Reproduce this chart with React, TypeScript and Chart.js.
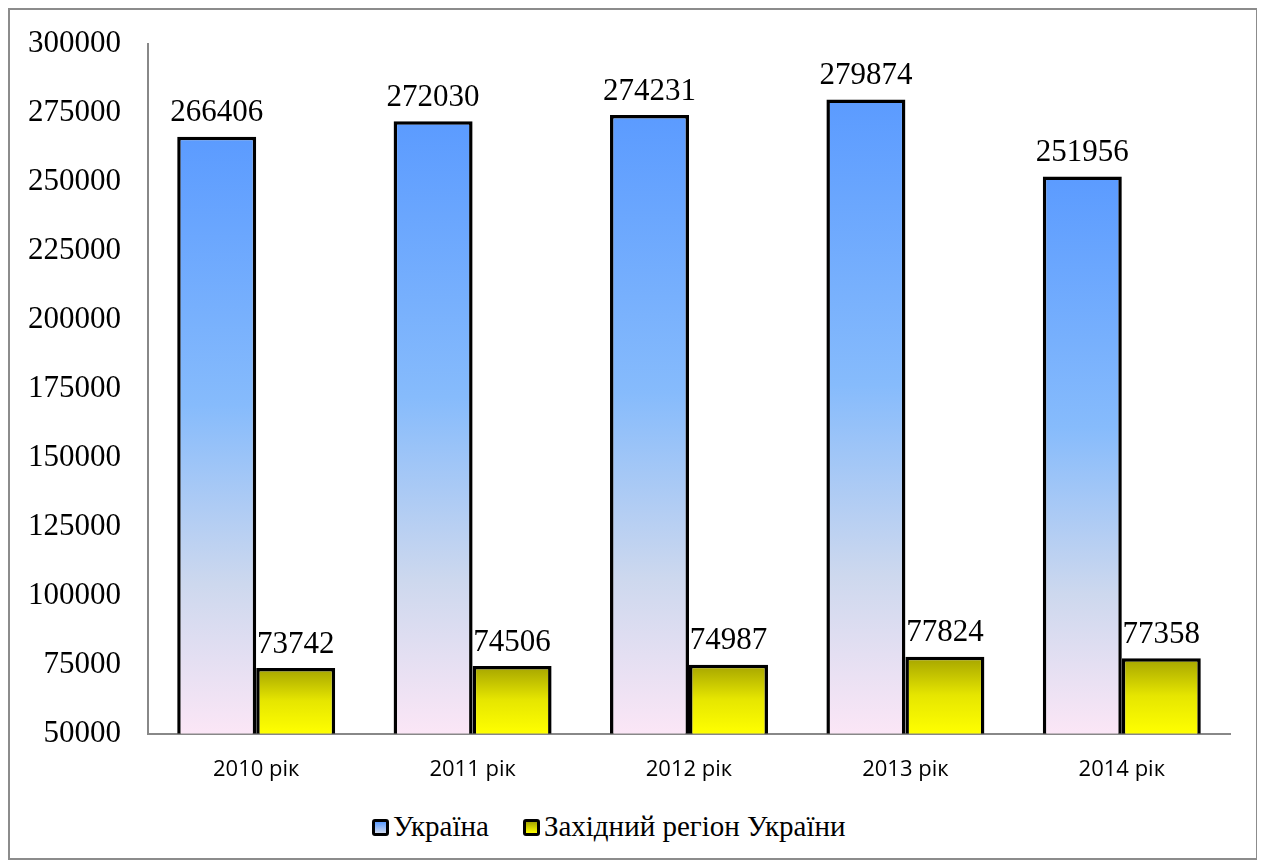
import React, { useEffect, useRef } from "react";
import { Chart, registerables } from "chart.js";

Chart.register(...registerables);

const categories = ["2010 рік", "2011 рік", "2012 рік", "2013 рік", "2014 рік"];
const ukraineValues = [266406, 272030, 274231, 279874, 251956];
const westValues = [73742, 74506, 74987, 77824, 77358];
const seriesNames = ["Україна", "Західний регіон України"];
const yMin = 50000;
const yMax = 300000;
const yStep = 25000;

const SERIF = '"Liberation Serif", "Times New Roman", serif';

function blueGradient(ctx: any) {
  const chart = ctx.chart;
  const area = chart.chartArea;
  if (!area || ctx.type !== "data") return "#8dbdfa";
  const top = chart.scales.y.getPixelForValue(ctx.raw);
  const g = chart.ctx.createLinearGradient(0, top, 0, area.bottom);
  g.addColorStop(0, "#5b9bff");
  g.addColorStop(0.45, "#86bbfc");
  g.addColorStop(0.75, "#cdd8ee");
  g.addColorStop(1, "#fbe6f6");
  return g;
}

function yellowGradient(ctx: any) {
  const chart = ctx.chart;
  const area = chart.chartArea;
  if (!area || ctx.type !== "data") return "#e6e600";
  const top = chart.scales.y.getPixelForValue(ctx.raw);
  const g = chart.ctx.createLinearGradient(0, top, 0, area.bottom);
  g.addColorStop(0, "#a5a400");
  g.addColorStop(0.5, "#e6e600");
  g.addColorStop(1, "#ffff00");
  return g;
}

const valueLabels = {
  id: "valueLabels",
  afterDatasetsDraw(chart: any) {
    const ctx = chart.ctx;
    ctx.save();
    ctx.font = `31px ${SERIF}`;
    ctx.fillStyle = "#000";
    ctx.textAlign = "center";
    ctx.textBaseline = "bottom";
    chart.data.datasets.forEach((ds: any, i: number) => {
      const meta = chart.getDatasetMeta(i);
      meta.data.forEach((bar: any, j: number) => {
        ctx.fillText(String(ds.data[j]), bar.x, bar.y - 8);
      });
    });
    ctx.restore();
  },
};

const legendBox = (bg: string): React.CSSProperties => ({
  display: "inline-block",
  width: 11,
  height: 11,
  border: "3.5px solid #000",
  borderRadius: 3,
  background: bg,
  marginRight: 4,
  verticalAlign: "middle",
  position: "relative",
  top: -2,
});

export default function App() {
  const ref = useRef<HTMLCanvasElement>(null);
  useEffect(() => {
    if (!ref.current) return;
    const chart = new Chart(ref.current, {
      type: "bar",
      data: {
        labels: categories,
        datasets: [
          {
            label: seriesNames[0],
            data: ukraineValues,
            backgroundColor: blueGradient as any,
            borderColor: "#000",
            borderWidth: 3.5,
            borderSkipped: false,
          },
          {
            label: seriesNames[1],
            data: westValues,
            backgroundColor: yellowGradient as any,
            borderColor: "#000",
            borderWidth: 3.5,
            borderSkipped: false,
          },
        ],
      },
      options: {
        animation: false,
        responsive: true,
        maintainAspectRatio: false,
        layout: { padding: { top: 34, right: 26, left: 0, bottom: 0 } },
        datasets: { bar: { categoryPercentage: 0.73, barPercentage: 1 } },
        scales: {
          x: {
            grid: { display: false, drawTicks: false },
            border: { display: true, color: "#888", width: 2 },
            ticks: {
              color: "#000",
              font: { family: '"Open Sans", sans-serif', size: 22 },
              padding: 23,
            },
          },
          y: {
            min: yMin,
            max: yMax,
            grid: { display: false, drawTicks: false },
            border: { display: true, color: "#888", width: 2 },
            afterFit: (scale: any) => {
              scale.width = 138;
              scale.paddingTop = 0;
              scale.paddingBottom = 0;
            },
            ticks: {
              stepSize: yStep,
              color: "#000",
              font: { family: SERIF, size: 31 },
              padding: 27,
              callback: (v: any) => String(v),
            },
          },
        },
        plugins: {
          legend: { display: false },
          tooltip: { enabled: false },
        },
      },
      plugins: [valueLabels],
    });
    return () => chart.destroy();
  }, []);
  return (
    <div
      style={{
        width: 1250,
        height: 852,
        border: "2px solid #8c8c8c",
        boxSizing: "border-box",
        position: "relative",
        background: "#fff",
      }}
    >
      <div style={{ position: "absolute", left: 0, top: 0, width: 1246, height: 796 }}>
        <canvas ref={ref} />
      </div>
      <div
        style={{
          position: "absolute",
          left: 362,
          top: 799,
          textAlign: "left",
          fontFamily: SERIF,
          fontSize: 29,
          lineHeight: "34px",
          color: "#000",
          whiteSpace: "nowrap",
        }}
      >
        <span style={{ marginRight: 34 }}>
          <span style={legendBox("linear-gradient(#5b9bff, #cdd8ee)")} />
          {seriesNames[0]}
        </span>
        <span>
          <span style={legendBox("linear-gradient(#a5a400, #ffff00)")} />
          {seriesNames[1]}
        </span>
      </div>
    </div>
  );
}
